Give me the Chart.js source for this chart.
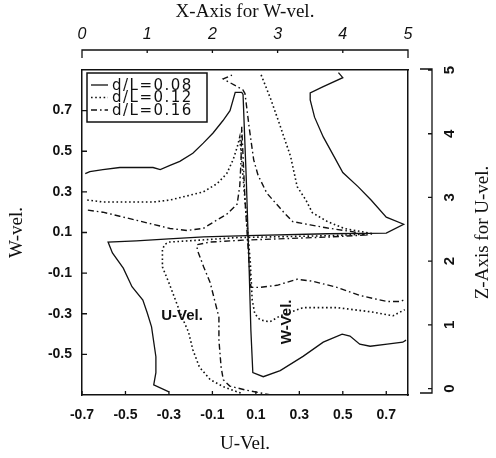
<!DOCTYPE html>
<html>
<head>
<meta charset="utf-8">
<script src="https://cdn.jsdelivr.net/npm/chart.js"></script>
<style>
  html, body { margin: 0; padding: 0; background: #fff; }
  #wrap { width: 496px; height: 458px; position: relative; }
</style>
</head>
<body>
<div id="wrap"><canvas id="velChart"></canvas></div>
<script>
// ===== DATA =====
const seriesLabels = ['d/L=0.08', 'd/L=0.12', 'd/L=0.16'];

// U-vel profiles: U (bottom axis) against Z (right axis)
const uVel08 = [-0.30,-0.37,-0.36,-0.36,-0.38,-0.40,-0.42,-0.47,-0.51,-0.56,-0.58,-0.45,-0.30,-0.14,0.06,0.43,0.70,0.78,0.70,0.63,0.57,0.50,0.46,0.41,0.37,0.35,0.35,0.41,0.50,0.48];
const zPos08 = [-0.05,0.06,0.25,0.50,0.97,1.19,1.39,1.60,1.89,2.13,2.30,2.32,2.35,2.38,2.40,2.43,2.44,2.58,2.69,2.96,3.17,3.39,3.64,3.95,4.26,4.53,4.64,4.74,4.88,4.96];
const uVel12 = [0.03,-0.05,-0.11,-0.16,-0.19,-0.21,-0.24,-0.27,-0.30,-0.33,-0.33,-0.32,-0.30,-0.16,0.01,0.44,0.64,0.51,0.43,0.36,0.33,0.29,0.26,0.21,0.17,0.12];
const zPos12 = [-0.07,0.03,0.14,0.34,0.61,0.89,1.12,1.39,1.66,1.91,2.18,2.26,2.30,2.33,2.37,2.40,2.43,2.51,2.62,2.76,2.96,3.17,3.64,4.14,4.53,4.96];
const uVel16 = [0.17,0.05,-0.02,-0.05,-0.06,-0.07,-0.07,-0.09,-0.11,-0.14,-0.17,-0.17,-0.11,0.04,0.44,0.60,0.55,0.43,0.35,0.27,0.23,0.15,0.11,0.09,0.07,0.05,0.04,-0.05,-0.01];
const zPos16 = [-0.10,-0.02,0.04,0.14,0.34,0.76,1.12,1.39,1.66,1.91,2.18,2.26,2.30,2.33,2.38,2.41,2.46,2.52,2.57,2.62,2.76,3.07,3.35,3.59,4.08,4.63,4.69,4.86,4.92];

// W-vel profiles: X (top axis) against W (left axis)
const xPos08 = [0.05,0.12,0.32,0.58,0.84,1.09,1.20,1.35,1.50,1.70,1.86,2.01,2.16,2.27,2.35,2.45,2.47,2.52,2.56,2.59,2.62,2.78,3.04,3.39,3.70,3.99,4.11,4.26,4.42,4.68,4.92,4.97];
const wVel08 = [0.39,0.40,0.41,0.42,0.42,0.42,0.41,0.43,0.45,0.49,0.54,0.59,0.65,0.70,0.79,0.79,0.78,0.36,-0.04,-0.38,-0.59,-0.61,-0.58,-0.51,-0.44,-0.40,-0.41,-0.45,-0.46,-0.45,-0.44,-0.43];
const xPos12 = [0.08,0.32,0.58,0.84,1.09,1.35,1.61,1.86,2.07,2.22,2.32,2.38,2.42,2.50,2.58,2.61,2.65,2.73,2.88,3.04,3.39,3.91,4.42,4.77,4.95];
const wVel12 = [0.26,0.25,0.25,0.25,0.25,0.26,0.28,0.30,0.34,0.39,0.46,0.52,0.57,0.26,-0.04,-0.23,-0.30,-0.33,-0.34,-0.31,-0.27,-0.27,-0.29,-0.31,-0.28];
const xPos16 = [0.09,0.32,0.58,0.84,1.09,1.35,1.61,1.86,2.01,2.22,2.38,2.42,2.44,2.45,2.50,2.56,2.59,2.73,2.99,3.30,3.54,3.91,4.26,4.68,4.88,4.95];
const wVel16 = [0.21,0.20,0.18,0.16,0.14,0.12,0.11,0.12,0.15,0.19,0.24,0.33,0.46,0.62,0.26,-0.04,-0.17,-0.17,-0.16,-0.13,-0.14,-0.17,-0.21,-0.24,-0.24,-0.23];

// tick labels
const uTicks = [-0.7, -0.5, -0.3, -0.1, 0.1, 0.3, 0.5, 0.7];
const wTicks = [-0.5, -0.3, -0.1, 0.1, 0.3, 0.5, 0.7];
const xTicks = [0, 1, 2, 3, 4, 5];
const zTicks = [0, 1, 2, 3, 4, 5];

// ===== STYLE =====
const INK = '#111';
const dashes = [[], [1.6, 2.6], [6, 3, 1.6, 3]];
const widths = [1.3, 1.6, 1.4];

function pairs(xs, ys) {
  return xs.map((v, i) => ({ x: v, y: ys[i] }));
}

const uSets = [[uVel08, zPos08], [uVel12, zPos12], [uVel16, zPos16]];
const wSets = [[xPos08, wVel08], [xPos12, wVel12], [xPos16, wVel16]];

const datasets = [];
seriesLabels.forEach((lab, i) => {
  const look = { borderDash: dashes[i], borderWidth: widths[i] };
  datasets.push({ label: lab, data: pairs(uSets[i][0], uSets[i][1]), xAxisID: 'u', yAxisID: 'z', ...look });
  datasets.push({ label: lab, data: pairs(wSets[i][0], wSets[i][1]), xAxisID: 'xw', yAxisID: 'w', ...look });
});
datasets.forEach(d => Object.assign(d, {
  showLine: true, pointRadius: 0, borderColor: INK, tension: 0, fill: false
}));

function fixedTicks(list) {
  return scale => { scale.ticks = list.map(v => ({ value: v })); };
}

// ===== DECORATION: detached axes, inner ticks, legend, notes =====
const frameDecor = {
  id: 'frameDecor',
  afterDraw(chart) {
    const { ctx, chartArea: area, scales } = chart;
    const { u, w, xw, z } = scales;
    ctx.save();
    ctx.strokeStyle = INK;
    ctx.fillStyle = INK;
    ctx.lineWidth = 1.3;

    // top axis for W-vel, drawn apart from the box
    const topY = 50;
    const xa = xw.getPixelForValue(xw.min), xb = xw.getPixelForValue(xw.max);
    ctx.beginPath();
    ctx.moveTo(xa, topY + 8); ctx.lineTo(xa, topY); ctx.lineTo(xb, topY); ctx.lineTo(xb, topY + 8);
    xw.ticks.forEach(t => {
      const px = xw.getPixelForValue(t.value);
      ctx.moveTo(px, topY); ctx.lineTo(px, topY + 3);
    });
    ctx.stroke();

    // right bracket axis for U-vel
    const brX = 432;
    ctx.beginPath();
    ctx.moveTo(brX - 12, area.top - 1); ctx.lineTo(brX, area.top - 1);
    ctx.lineTo(brX, area.bottom - 2); ctx.lineTo(brX - 12, area.bottom - 2);
    z.ticks.forEach(t => {
      const py = z.getPixelForValue(t.value);
      ctx.moveTo(brX, py); ctx.lineTo(brX - 4, py);
    });
    ctx.stroke();

    // inward ticks on box
    ctx.beginPath();
    u.ticks.forEach(t => {
      const px = u.getPixelForValue(t.value);
      ctx.moveTo(px, area.bottom); ctx.lineTo(px, area.bottom - 4);
    });
    w.ticks.forEach(t => {
      const py = w.getPixelForValue(t.value);
      ctx.moveTo(area.left, py); ctx.lineTo(area.left + 5, py);
    });
    ctx.stroke();

    // legend
    const lg = { x: 87, y: 73, w: 120, h: 49 };
    ctx.fillStyle = '#fff';
    ctx.fillRect(lg.x, lg.y, lg.w, lg.h);
    ctx.fillStyle = INK;
    ctx.lineWidth = 1.5;
    ctx.strokeRect(lg.x, lg.y, lg.w, lg.h);
    ctx.font = '15px "DejaVu Sans"';
    ctx.textBaseline = 'middle';
    ctx.textAlign = 'left';
    if ('letterSpacing' in ctx) ctx.letterSpacing = '1.5px';
    seriesLabels.forEach((lab, i) => {
      const y = lg.y + 12 + i * 12.5;
      ctx.lineWidth = widths[i];
      ctx.setLineDash(dashes[i]);
      ctx.beginPath();
      ctx.moveTo(lg.x + 4, y); ctx.lineTo(lg.x + 21, y);
      ctx.stroke();
      ctx.setLineDash([]);
      ctx.fillText(lab, lg.x + 25, y + 1);
    });
    if ('letterSpacing' in ctx) ctx.letterSpacing = '0px';

    // curve notes
    ctx.font = 'bold 15px "Liberation Sans"';
    ctx.textAlign = 'center';
    ctx.fillText('U-Vel.', u.getPixelForValue(-0.24), z.getPixelForValue(1.14));
    ctx.save();
    ctx.translate(xw.getPixelForValue(3.14), w.getPixelForValue(-0.34));
    ctx.rotate(-Math.PI / 2);
    ctx.fillText('W-Vel.', 0, 0);
    ctx.restore();

    // right axis title, reading bottom to top
    ctx.font = '19px "Liberation Serif"';
    ctx.save();
    ctx.translate(483, (area.top + area.bottom) / 2);
    ctx.rotate(-Math.PI / 2);
    ctx.fillText('Z-Axis for U-vel.', 0, 0);
    ctx.restore();

    ctx.restore();
  }
};

const tickFont = { family: 'Liberation Sans', size: 14, weight: 'bold' };
const titleFont = { family: 'Liberation Serif', size: 19 };
const edge = { color: INK, width: 1.5 };
const noGrid = { display: false, drawTicks: false };

new Chart(document.getElementById('velChart'), {
  type: 'scatter',
  data: { datasets },
  options: {
    responsive: true,
    maintainAspectRatio: false,
    animation: false,
    layout: { padding: 0 },
    plugins: { legend: { display: false }, tooltip: { enabled: false } },
    scales: {
      u: {
        type: 'linear', position: 'bottom', min: -0.7, max: 0.8,
        afterBuildTicks: fixedTicks(uTicks),
        afterFit: s => { s.height = 63; },
        grid: noGrid, border: edge,
        ticks: { padding: 12, maxRotation: 0, autoSkip: false, color: INK, font: tickFont, callback: v => v.toFixed(1) },
        title: { display: true, text: 'U-Vel.', color: INK, font: titleFont, padding: { top: 0, bottom: 3 } }
      },
      xw: {
        type: 'linear', position: 'top', min: 0, max: 5,
        afterBuildTicks: fixedTicks(xTicks),
        afterFit: s => { s.height = 70; },
        grid: noGrid, border: edge,
        ticks: { padding: 26, maxRotation: 0, autoSkip: false, color: INK, font: { family: 'Liberation Sans', size: 16, style: 'italic' }, callback: v => String(v) },
        title: { display: true, text: 'X-Axis for W-vel.', color: INK, font: titleFont, padding: { top: 1, bottom: 0 } }
      },
      w: {
        type: 'linear', position: 'left', min: -0.7, max: 0.9,
        afterBuildTicks: fixedTicks(wTicks),
        afterFit: s => { s.width = 82; },
        grid: noGrid, border: edge,
        ticks: { padding: 10, autoSkip: false, color: INK, font: tickFont, callback: v => v.toFixed(1) },
        title: { display: true, text: 'W-vel.', color: INK, font: titleFont, padding: { top: 6, bottom: 0 } }
      },
      z: {
        type: 'linear', position: 'right', min: -0.1, max: 5.0,
        afterBuildTicks: fixedTicks(zTicks),
        afterFit: s => { s.width = 88; },
        grid: noGrid, border: edge,
        ticks: { padding: 38, minRotation: 90, maxRotation: 90, crossAlign: 'center', autoSkip: false, color: INK, font: { family: 'Liberation Sans', size: 15, weight: 'bold' }, callback: v => String(v) },
        title: { display: false }
      }
    }
  },
  plugins: [frameDecor]
});
</script>
</body>
</html>
